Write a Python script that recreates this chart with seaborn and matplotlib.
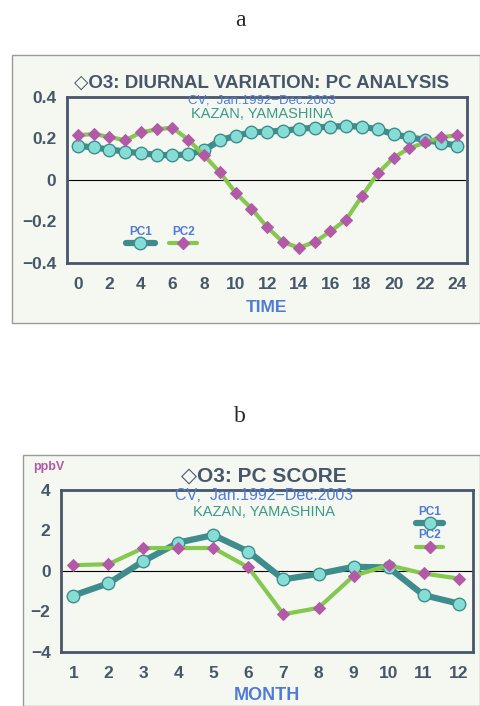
import numpy as np
import pandas as pd
import matplotlib
matplotlib.use('Agg')
import matplotlib.pyplot as plt
import seaborn as sns
from matplotlib.patches import Rectangle
from matplotlib.lines import Line2D

# Diurnal variation: PC loadings (a)
hours = list(range(25))
pc1_hour = [0.164, 0.156, 0.146, 0.136, 0.128, 0.120, 0.118, 0.123, 0.143, 0.190,
            0.212, 0.228, 0.232, 0.236, 0.245, 0.251, 0.256, 0.259, 0.256, 0.243,
            0.220, 0.204, 0.193, 0.178, 0.165]
pc2_hour = [0.215, 0.220, 0.207, 0.190, 0.228, 0.243, 0.251, 0.193, 0.118, 0.036,
            -0.062, -0.138, -0.228, -0.300, -0.326, -0.300, -0.248, -0.191, -0.078, 0.031,
            0.107, 0.152, 0.180, 0.204, 0.215]

# PC score by month (b)
months = list(range(1, 13))
pc1_month = [-1.22, -0.62, 0.48, 1.40, 1.77, 0.95, -0.42, -0.15, 0.20, 0.17, -1.20, -1.62]
pc2_month = [0.28, 0.33, 1.13, 1.13, 1.13, 0.17, -2.15, -1.83, -0.25, 0.28, -0.13, -0.38]

sns.set_style('white')
plt.rcParams['font.family'] = ['Liberation Sans', 'DejaVu Sans']

TEAL = '#3f8c8c'
CYAN = '#86ddd6'
GREEN = '#84c84e'
MAGENTA = '#b25aa8'
SLATE = '#48566a'
BLUE = '#4f7bd6'
KAZAN = '#3a9a88'
BG = '#f5f8f1'
W, H = 480, 706

fig = plt.figure(figsize=(4.8, 7.06), dpi=100)


def fx(x):
    return x / W


def fy(y):
    return 1 - y / H


# panel backgrounds (behind the axes)
fig.patches.append(Rectangle((fx(12), fy(323)), fx(480) - fx(12), fy(55) - fy(323),
                             transform=fig.transFigure, facecolor=BG, edgecolor='#9a9a9a',
                             lw=1, zorder=-5))
fig.patches.append(Rectangle((fx(23), fy(706)), fx(480) - fx(23), fy(455) - fy(706),
                             transform=fig.transFigure, facecolor=BG, edgecolor='#9a9a9a',
                             lw=1, zorder=-5))

fig.text(0.5, fy(20), 'a', ha='center', va='center', fontsize=17, family='Liberation Serif')
fig.text(0.5, fy(416), 'b', ha='center', va='center', fontsize=17, family='Liberation Serif')

df_a = pd.DataFrame({'hour': hours, 'PC1': pc1_hour, 'PC2': pc2_hour})
df_b = pd.DataFrame({'month': months, 'PC1': pc1_month, 'PC2': pc2_month})


def style_axes(ax):
    ax.set_facecolor('none')
    for s in ax.spines.values():
        s.set_color(SLATE)
        s.set_linewidth(2)
    ax.axhline(0, color='black', lw=0.8, zorder=1)
    ax.tick_params(axis='both', direction='out', length=4, width=1.2, color=SLATE,
                   labelcolor=SLATE, labelsize=12.5)
    ax.tick_params(axis='x', pad=6)
    for lab in ax.get_xticklabels() + ax.get_yticklabels():
        lab.set_fontweight('bold')
    ax.set_xlabel('')
    ax.set_ylabel('')


def draw_lines(ax, df, xcol):
    sns.lineplot(data=df, x=xcol, y='PC1', ax=ax, color=TEAL, lw=4.5, marker='o',
                 markersize=9, markerfacecolor=CYAN, markeredgecolor=TEAL, markeredgewidth=1,
                 zorder=3)
    sns.lineplot(data=df, x=xcol, y='PC2', ax=ax, color=GREEN, lw=3, marker='D',
                 markersize=6, markerfacecolor=MAGENTA, markeredgecolor=MAGENTA, zorder=4)


def legend_item(ax, x0, x1, y, ty, label, color, lw, mk, ms, mfc, mec):
    ax.add_line(Line2D([x0, x1], [y, y], transform=ax.transAxes, color=color, lw=lw,
                       solid_capstyle='round', zorder=5))
    ax.add_line(Line2D([(x0 + x1) / 2], [y], transform=ax.transAxes, marker=mk, ms=ms,
                       mfc=mfc, mec=mec, lw=0, zorder=6))
    ax.text((x0 + x1) / 2, ty, label, transform=ax.transAxes, ha='center', va='center',
            color=BLUE, fontsize=8.5, fontweight='bold')


# ---- (a) diurnal variation ----
ax1 = fig.add_axes([fx(66.7), fy(263), fx(467) - fx(66.7), fy(96.7) - fy(263)])
draw_lines(ax1, df_a, 'hour')
ax1.set_xlim(-0.7, 24.65)
ax1.set_ylim(-0.4, 0.4)
ax1.set_xticks(range(0, 25))
ax1.set_xticklabels([str(h) if h % 2 == 0 else '' for h in range(25)])
ax1.set_yticks(np.arange(-0.4, 0.41, 0.1))
ax1.set_yticklabels(['\u22120.4', '', '\u22120.2', '', '0', '', '0.2', '', '0.4'])
style_axes(ax1)
legend_item(ax1, 0.148, 0.220, 0.120, 0.186, 'PC1', TEAL, 4.5, 'o', 9, CYAN, TEAL)
legend_item(ax1, 0.256, 0.326, 0.120, 0.186, 'PC2', GREEN, 3, 'D', 6, MAGENTA, MAGENTA)

fig.text(fx(262), fy(83), '\u25c7O3: DIURNAL VARIATION: PC ANALYSIS', ha='center', va='center',
         fontsize=13.5, fontweight='bold', color=SLATE)
fig.text(fx(262), fy(100.5), 'CV;  Jan.1992\u2212Dec.2003', ha='center', va='center',
         fontsize=9.5, color=BLUE)
fig.text(fx(262), fy(114), 'KAZAN, YAMASHINA', ha='center', va='center',
         fontsize=10.5, color=KAZAN)
fig.text(fx(266), fy(307), 'TIME', ha='center', va='center', fontsize=12.5,
         fontweight='bold', color=BLUE)

# ---- (b) PC score ----
ax2 = fig.add_axes([fx(61), fy(651.7), fx(473) - fx(61), fy(490) - fy(651.7)])
draw_lines(ax2, df_b, 'month')
ax2.set_xlim(0.65, 12.41)
ax2.set_ylim(-4, 4)
ax2.set_xticks(months)
ax2.set_yticks(range(-4, 5))
ax2.set_yticklabels(['\u22124', '', '\u22122', '', '0', '', '2', '', '4'])
style_axes(ax2)
legend_item(ax2, 0.862, 0.927, 0.796, 0.862, 'PC1', TEAL, 4.5, 'o', 9, CYAN, TEAL)
legend_item(ax2, 0.862, 0.927, 0.649, 0.722, 'PC2', GREEN, 3, 'D', 6, MAGENTA, MAGENTA)

fig.text(fx(49), fy(467), 'ppbV', ha='center', va='center', fontsize=9, color=MAGENTA,
         fontweight='bold')
fig.text(fx(264), fy(476), '\u25c7O3: PC SCORE', ha='center', va='center',
         fontsize=15, fontweight='bold', color=SLATE)
fig.text(fx(264), fy(496), 'CV;  Jan.1992\u2212Dec.2003', ha='center', va='center',
         fontsize=11.5, color=BLUE)
fig.text(fx(264), fy(512), 'KAZAN, YAMASHINA', ha='center', va='center',
         fontsize=10.5, color=KAZAN)
fig.text(fx(267), fy(695), 'MONTH', ha='center', va='center', fontsize=13,
         fontweight='bold', color=BLUE)

fig.savefig('out.png', dpi=100)
